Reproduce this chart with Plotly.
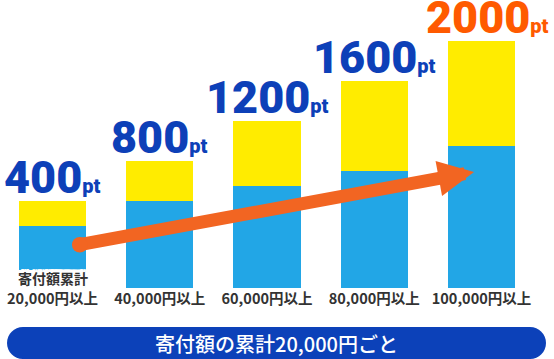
import plotly.graph_objects as go

# ---- data ----
categories = ["20,000円以上", "40,000円以上", "60,000円以上", "80,000円以上", "100,000円以上"]
points = [400, 800, 1200, 1600, 2000]
blue_values = [62, 87, 102, 117, 142]      # lower (blue) segment height
yellow_values = [25, 40, 65, 90, 105]      # upper (yellow) segment height
first_note = "寄付額累計"
footer_text = "寄付額の累計20,000円ごと"

# ---- styling ----
W, H = 554, 359
PLOT_H = 288
BLUE = "#22A6E6"
YELLOW = "#FFEC00"
NAVY = "#0D40B8"
ORANGE = "#FF5A00"
ARROW = "#F26522"
GRAY = "#333333"
CJK = "Noto Sans CJK JP"

x_idx = list(range(len(categories)))
totals = [b + y for b, y in zip(blue_values, yellow_values)]

fig = go.Figure()
fig.add_trace(go.Bar(x=x_idx, y=blue_values, width=0.625, marker=dict(color=BLUE, line=dict(width=0)),
                     hoverinfo="skip"))
fig.add_trace(go.Bar(x=x_idx, y=yellow_values, width=0.625, marker=dict(color=YELLOW, line=dict(width=0)),
                     hoverinfo="skip"))

annotations = []
# value labels
for i, (p, t) in enumerate(zip(points, totals)):
    col = ORANGE if i == len(points) - 1 else NAVY
    annotations.append(dict(
        x=i, y=t, xref="x", yref="y", xanchor="center", yanchor="bottom",
        text=f"{p}<span style='font-size:20px'>pt</span>",
        showarrow=False, yshift=-5, xshift=(6 if i == len(points) - 1 else 0),
        font=dict(family="Roboto", size=45, color=col, weight=900),
    ))

# note on first bar
outline = ", ".join(f"{dx}px {dy}px 0 #fff" for dx in (-3, -2, 0, 2, 3) for dy in (-3, -2, 0, 2, 3))
annotations.append(dict(
    x=0, y=10, xref="x", yref="y", xanchor="center", yanchor="middle",
    text=first_note, showarrow=False,
    font=dict(family=CJK, size=14, color=GRAY, weight=700, shadow=outline),
))

# arrow
ARROW_FROM = (0.24, 43)
ARROW_TO = (3.93, 116)
annotations.append(dict(
    x=ARROW_TO[0], y=ARROW_TO[1], xref="x", yref="y",
    ax=ARROW_FROM[0], ay=ARROW_FROM[1], axref="x", ayref="y",
    text="", showarrow=True, arrowhead=2, arrowsize=0.55, arrowwidth=13,
    arrowcolor=ARROW, arrowside="end+start", startarrowhead=6, startarrowsize=0.3,
    standoff=0, startstandoff=0,
))

# footer pill
def px(xp):
    return xp / W

def py(yp):
    return (PLOT_H - yp) / PLOT_H

L, R, T, B = 7, 546, 327, 359
r = (B - T) / 2
k = 0.5523 * r
pts = [
    ("M", [(L + r, T)]),
    ("L", [(R - r, T)]),
    ("C", [(R - r + k, T), (R, T + r - k), (R, T + r)]),
    ("C", [(R, T + r + k), (R - r + k, B), (R - r, B)]),
    ("L", [(L + r, B)]),
    ("C", [(L + r - k, B), (L, B - r + k), (L, B - r)]),
    ("C", [(L, T + r - k), (L + r - k, T), (L + r, T)]),
]
path = " ".join(cmd + " " + " ".join(f"{px(a):.5f},{py(b):.5f}" for a, b in seg) for cmd, seg in pts) + " Z"

shapes = [dict(type="path", xref="paper", yref="paper", path=path,
               fillcolor="#0C41B9", line=dict(width=0), layer="above")]

annotations.append(dict(
    x=px((L + R) / 2), y=py((T + B) / 2), xref="paper", yref="paper",
    xanchor="center", yanchor="middle", text=footer_text, showarrow=False,
    font=dict(family=CJK, size=20, color="white", weight=500),
))

fig.update_layout(
    width=W, height=H,
    margin=dict(l=0, r=0, t=0, b=H - PLOT_H, pad=0),
    barmode="stack", showlegend=False,
    paper_bgcolor="white", plot_bgcolor="white",
    xaxis=dict(range=[-0.4895, 4.676], tickvals=x_idx, ticktext=categories,
               showgrid=False, zeroline=False, showline=False, ticks="",
               tickfont=dict(family=CJK, size=14.5, color=GRAY, weight=700),
               fixedrange=True),
    yaxis=dict(range=[0, PLOT_H], visible=False, fixedrange=True),
    annotations=annotations, shapes=shapes,
)

fig.write_html("out.html", config={"displayModeBar": False},
               post_script="document.body.style.margin='0';document.body.style.overflow='hidden';")
